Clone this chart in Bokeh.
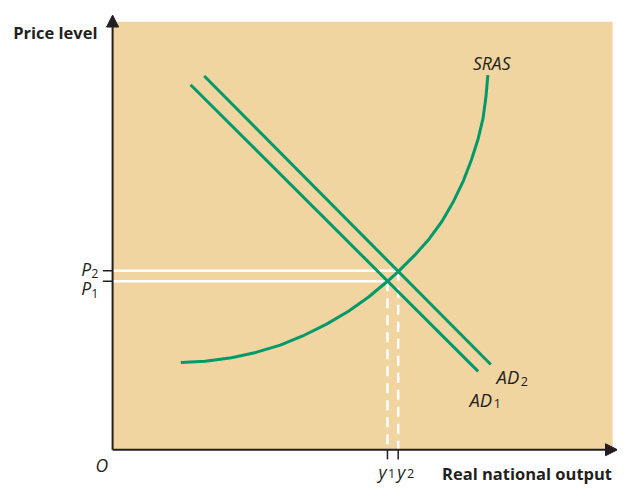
from bokeh.plotting import figure
from bokeh.models import Range1d, Arrow, NormalHead
from bokeh.embed import file_html
from bokeh.resources import INLINE
from bokeh.core.properties import value

# ---- data (economic units: output on x, price level on y) ----
ad1_x = [16.0, 75.0]
ad1_y = [75.4, 16.2]
ad2_x = [18.8, 77.6]
ad2_y = [77.2, 17.6]
sras_x = [14.0, 19.0, 24.4, 29.4, 34.4, 39.0, 44.0, 48.4, 52.6, 56.4, 58.6,
          62.0, 65.0, 67.6, 70.0, 72.0, 73.6, 75.0, 76.0, 76.6, 77.0]
sras_y = [18.0, 18.3, 19.0, 20.1, 21.6, 23.5, 26.0, 28.6, 31.6, 34.8, 36.8,
          40.2, 43.6, 47.2, 51.4, 55.6, 59.8, 64.2, 68.4, 72.8, 77.4]
price_levels = [34.8, 37.0]      # P1, P2
outputs = [56.4, 58.6]           # y1, y2
price_subs = ["1", "2"]
output_subs = ["1", "2"]
x_max = 103.6
y_max = 89.8
area_x_max = 102.6
area_y_max = 88.4

TAN = "#F0D5A1"
GREEN = "#00996B"
INK = "#231F20"
FONT = "Open Sans"
K = 0.97  # pixel scale

p = figure(width=617, height=487, output_backend="svg", toolbar_location=None,
           x_range=Range1d(-23.0, 103.6), y_range=Range1d(-7.8, 92.8),
           min_border=0, min_border_left=0, min_border_right=0,
           min_border_top=0, min_border_bottom=0)
p.axis.visible = False
p.grid.visible = False
p.outline_line_color = None
p.background_fill_color = "white"
p.border_fill_color = "white"

# background area
p.quad(left=0, right=area_x_max, bottom=0, top=area_y_max, fill_color=TAN, line_color=None)

# white equilibrium guides
p.segment(x0=[0, 0], y0=price_levels, x1=outputs, y1=price_levels,
          line_color="white", line_width=2.5)
p.segment(x0=outputs, y0=price_levels, x1=outputs, y1=[0, 0],
          line_color="white", line_width=2.5, line_dash="10 7")

# curves
p.line(ad1_x, ad1_y, line_color=GREEN, line_width=3)
p.line(ad2_x, ad2_y, line_color=GREEN, line_width=3)
p.line(sras_x, sras_y, line_color=GREEN, line_width=3, line_join="round")

# axes with arrows
p.add_layout(Arrow(end=NormalHead(size=12, fill_color=INK, line_color=INK),
                   x_start=0, y_start=0, x_end=0, y_end=y_max,
                   line_color=INK, line_width=2))
p.add_layout(Arrow(end=NormalHead(size=12, fill_color=INK, line_color=INK),
                   x_start=0, y_start=0, x_end=x_max, y_end=0,
                   line_color=INK, line_width=2))

# tick marks
p.segment(x0=[-2, -2], y0=price_levels, x1=[0, 0], y1=price_levels, line_color=INK, line_width=1.5)
p.segment(x0=outputs, y0=[0, 0], x1=outputs, y1=[-2, -2], line_color=INK, line_width=1.5)

def txt(x, y, t, size, align="left", xo=0, yo=0, style="italic"):
    p.text(x=[x], y=[y], text=[t], text_font=value(FONT), text_font_size=f"{size * K:.1f}px",
           text_font_style=style, text_color=INK, text_align=align,
           text_baseline="alphabetic", x_offset=xo * K, y_offset=yo * K)

# price labels
txt(0, price_levels[0], "P", 18, "right", -22, 7)
txt(0, price_levels[0], price_subs[0], 13, "left", -22, 13, "normal")
txt(0, price_levels[1], "P", 18, "right", -22, -2)
txt(0, price_levels[1], price_subs[1], 13, "left", -22, 3, "normal")

# output labels
txt(outputs[0], 0, "y", 18, "right", -1, 23)
txt(outputs[0], 0, output_subs[0], 13, "left", 0.5, 25, "normal")
txt(outputs[1], 0, "y", 18, "left", -1, 23)
txt(outputs[1], 0, output_subs[1], 13, "left", 9, 25, "normal")

# curve labels
txt(sras_x[-1], sras_y[-1], "SRAS", 18, "center", 4, -12)
txt(ad2_x[-1], ad2_y[-1], "AD", 19, "left", 6, 12)
txt(ad2_x[-1], ad2_y[-1], "2", 13, "left", 31, 17, "normal")
txt(ad1_x[-1], ad1_y[-1], "AD", 19, "left", -9, 29)
txt(ad1_x[-1], ad1_y[-1], "1", 13, "left", 16, 33, "normal")

# origin and axis titles
txt(0, 0, "O", 18, "center", -11, 16)
txt(-20.4, 86.2, "Price level", 17, "left", 0, 0, "bold")
txt(67.6, -5.0, "Real national output", 17, "left", 0, 0, "bold")

open("out.html", "w").write(file_html(p, INLINE))
